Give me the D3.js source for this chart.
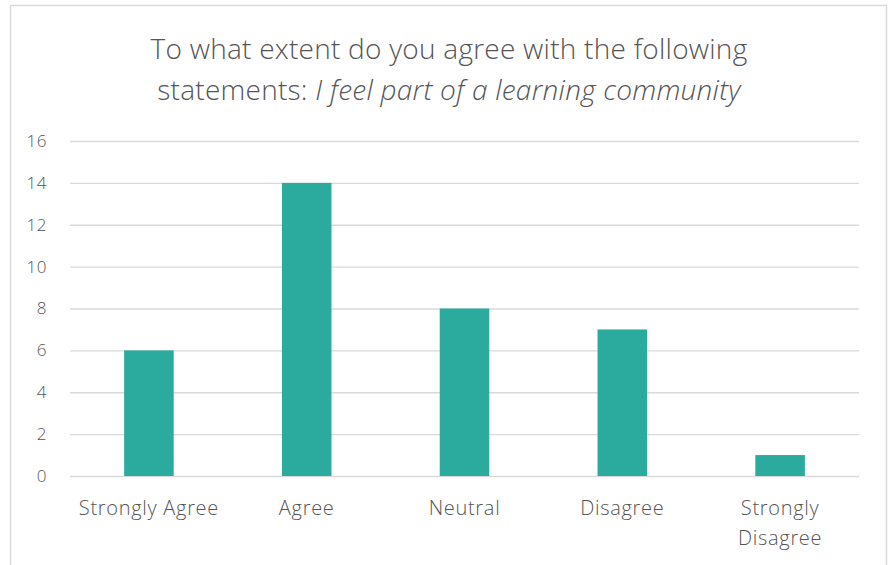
<!DOCTYPE html>
<html><head><meta charset="utf-8">
<script src="https://cdn.jsdelivr.net/npm/d3@7"></script>
<style>body{margin:0;background:#fff;} text{font-family:"Open Sans",sans-serif;fill:#555;}</style>
</head><body>
<svg id="c" width="890" height="565"></svg>
<script>
const categories = ["Strongly Agree","Agree","Neutral","Disagree","Strongly Disagree"];
const values = [6,14,8,7,1];
const yTicks = [0,2,4,6,8,10,12,14,16];

const svg = d3.select("#c");
svg.append("rect").attr("x",10.5).attr("y",5.5).attr("width",876).attr("height",600)
  .attr("fill","#fff").attr("stroke","#d9d9d9").attr("stroke-width",1.5);

const x = d3.scaleBand().domain(categories).range([70,859]).paddingInner(0.686).paddingOuter(0.343);
const y = d3.scaleLinear().domain([0,16]).range([476,141]);

const title = svg.append("text").attr("text-anchor","middle").style("font-size","28px").style("font-weight",300).style("letter-spacing","0.25px");
title.append("tspan").attr("x",449).attr("y",59).text("To what extent do you agree with the following");
const l2 = title.append("tspan").attr("x",449).attr("y",100);
l2.append("tspan").text("statements: ");
l2.append("tspan").style("font-style","italic").text("I feel part of a learning community");

const gy = svg.append("g").attr("transform","translate(70,0)")
  .call(d3.axisLeft(y).tickValues(yTicks).tickSize(-789).tickPadding(23));
gy.select(".domain").remove();
gy.selectAll(".tick line").attr("stroke","#d9d9d9").attr("stroke-width",1.3);
gy.selectAll(".tick text").style("font-size","17px").style("font-weight",300).style("letter-spacing","0.6px").attr("fill","#555");

svg.append("g").selectAll("rect").data(values).join("rect")
  .attr("x",(d,i)=>x(categories[i])).attr("width",x.bandwidth())
  .attr("y",d=>y(d)).attr("height",d=>y(0)-y(d)).attr("fill","#2BAB9E");

const gx = svg.append("g").attr("transform","translate(0,476)")
  .call(d3.axisBottom(x).tickSize(0).tickPadding(0));
gx.select(".domain").remove();
gx.selectAll(".tick text").style("font-size","20px").style("font-weight",300).style("letter-spacing","0.7px").attr("fill","#555")
  .each(function(d){
    const t = d3.select(this); t.text(null);
    const lines = d==="Strongly Disagree" ? ["Strongly","Disagree"] : [d];
    lines.forEach((s,i)=>t.append("tspan").attr("x",0).attr("y",39+i*30).text(s));
  }).attr("dy",null);
</script>
</body></html>
